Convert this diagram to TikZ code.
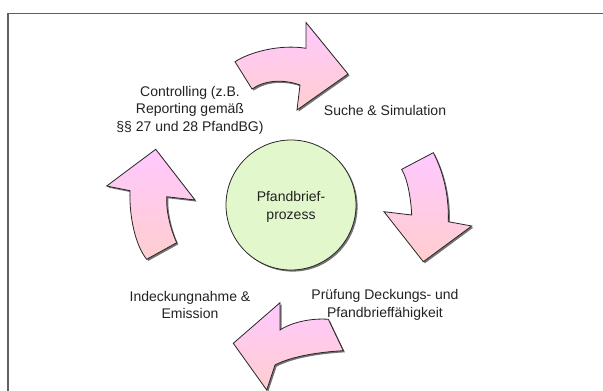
\documentclass[tikz,border=0pt]{standalone}
\usepackage{fontspec}
\setmainfont{Liberation Sans}
\definecolor{arrowtop}{RGB}{255,200,255}
\definecolor{arrowbot}{RGB}{255,206,206}
\definecolor{circfill}{RGB}{226,248,204}
\definecolor{framegray}{RGB}{96,96,96}
\definecolor{txt}{RGB}{34,34,34}
\tikzset{
  lbl/.style={font=\fontsize{14}{17.5}\selectfont, text=txt, align=center, inner sep=0pt},
  arrowshape/.style={draw=black!85, line width=0.8pt, line join=miter, top color=arrowtop, bottom color=arrowbot},
  shadowshape/.style={fill=black, fill opacity=0.55, draw=none},
}
\begin{document}
\begin{tikzpicture}[x=1pt,y=-1pt]
\useasboundingbox (0,0) rectangle (603,391);
% frame
\draw[framegray, line width=1.6pt] (8,395) -- (8,13.3) -- (607,13.3);

% arrow outlines
\def\arrT{(235,61.7) .. controls (250,52) and (280,44) .. (306,48.3) -- (306,22.5) -- (348,74) -- (297,110) -- (300,85) .. controls (283,79) and (265,80) .. (252,89) -- cycle}
\def\arrR{(401.7,169.3) -- (433.3,152.7) .. controls (445,175) and (449,200) .. (448.3,221.7) -- (471.7,226) -- (423.3,261.7) -- (384,211.7) -- (411.7,215) .. controls (411,200) and (408,180) .. (401.7,169.3) -- cycle}
\def\arrB{(328.3,319.3) -- (343.3,350.7) .. controls (320,352) and (292,356) .. (275,365) -- (266.7,390) -- (233.3,343.3) -- (280,302.7) -- (280,330) .. controls (292,322) and (312,318) .. (328.3,319.3) -- cycle}
\def\arrL{(146.7,259.3) -- (176.7,242.7) .. controls (170,228) and (166,210) .. (166.7,196.7) -- (195,200) -- (155.7,149.3) -- (106.7,186) -- (130,190.7) .. controls (129,215) and (135,245) .. (146.7,259.3) -- cycle}

% shadows
\begin{scope}[shift={(1.6,1.6)}]
\fill[shadowshape] \arrT;
\fill[shadowshape] \arrR;
\fill[shadowshape] \arrB;
\fill[shadowshape] \arrL;
\fill[shadowshape] (291,205) circle[radius=65];
\end{scope}

% arrows
\path[arrowshape] \arrT;
\path[arrowshape] \arrR;
\path[arrowshape] \arrB;
\path[arrowshape] \arrL;

% centre circle
\node[circle, draw=black!85, line width=0.8pt, fill=circfill, minimum size=130pt, inner sep=0pt] (ctr) at (291,205) {};
\node[lbl] (ctrtxt) at (291,207) {Pfandbrief-\\prozess};

% labels
\node[lbl] (ctrl) at (190,110) {Controlling (z.B.\\Reporting gemäß\\§§ 27 und 28 PfandBG)};
\node[lbl] (suche) at (385,110) {Suche \& Simulation};
\node[lbl] (pruef) at (385,305) {Prüfung Deckungs- und\\Pfandbrieffähigkeit};
\node[lbl] (indeck) at (190,305) {Indeckungnahme \&\\Emission};
\end{tikzpicture}
\end{document}
